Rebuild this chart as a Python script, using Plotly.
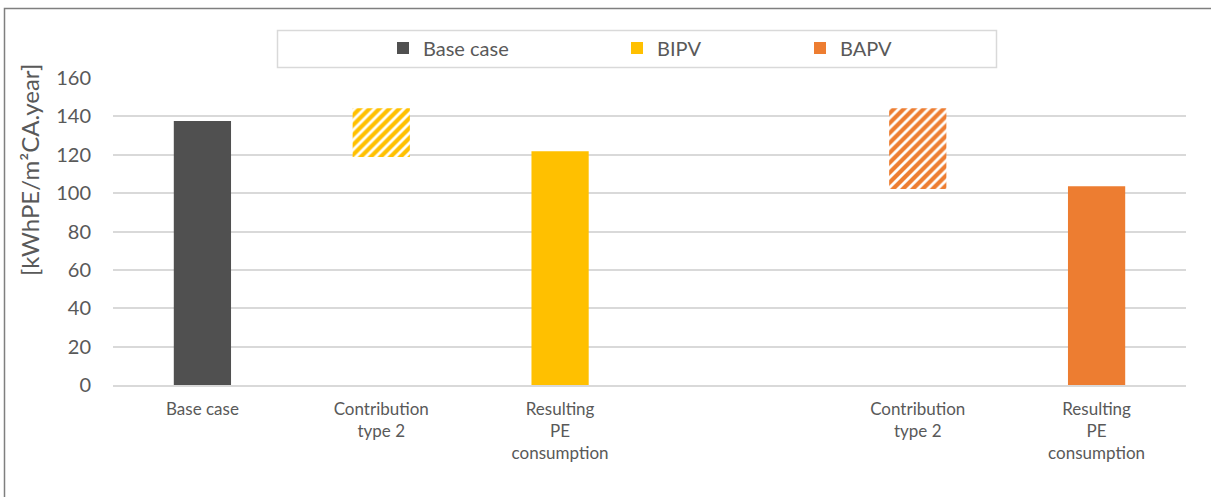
import plotly.graph_objects as go

# ---- data ----
categories = ["Base case", "Contribution<br>type 2", "Resulting<br>PE<br>consumption", "",
              "Contribution<br>type 2", "Resulting<br>PE<br>consumption"]
series_names = ["Base case", "BIPV", "BAPV"]
base_case_value = 137.6
bipv_contribution_low = 118.8
bipv_contribution_high = 144.2
bipv_resulting = 121.8
bapv_contribution_low = 102.2
bapv_contribution_high = 144.2
bapv_resulting = 103.6
y_ticks = [0, 20, 40, 60, 80, 100, 120, 140, 160]

colors = {"Base case": "#505050", "BIPV": "#FFC000", "BAPV": "#ED7D31"}
FONT = "Lato"
TXT = "#595959"
W = 0.32

fig = go.Figure()

fig.add_trace(go.Bar(x=[0], y=[base_case_value], width=W, name=series_names[0],
                     marker=dict(color=colors["Base case"], line=dict(width=0)),
                     legend="legend", showlegend=True))
# BIPV
fig.add_trace(go.Bar(x=[1], y=[bipv_contribution_high - bipv_contribution_low],
                     base=[bipv_contribution_low], width=W, name=series_names[1], showlegend=False,
                     marker=dict(color="white", line=dict(width=0),
                                 pattern=dict(shape="/", fgcolor=colors["BIPV"], bgcolor="white",
                                              fgopacity=1, size=7, solidity=0.6, fillmode="replace")),
                     legend="legend2"))
fig.add_trace(go.Bar(x=[2], y=[bipv_resulting], width=W, name=series_names[1],
                     marker=dict(color=colors["BIPV"], line=dict(width=0)), legend="legend2"))
# BAPV
fig.add_trace(go.Bar(x=[4], y=[bapv_contribution_high - bapv_contribution_low],
                     base=[bapv_contribution_low], width=W, name=series_names[2], showlegend=False,
                     marker=dict(color="white", line=dict(width=0),
                                 pattern=dict(shape="/", fgcolor=colors["BAPV"], bgcolor="white",
                                              fgopacity=1, size=7, solidity=0.6, fillmode="replace")),
                     legend="legend3"))
fig.add_trace(go.Bar(x=[5], y=[bapv_resulting], width=W, name=series_names[2],
                     marker=dict(color=colors["BAPV"], line=dict(width=0)), legend="legend3"))

L, R, T, B = 113, 25, 78, 112
PW, PH = 1211 - L - R, 497 - T - B

def px_x(p):
    return (p - L) / PW

def px_y(p):
    return (497 - B - p) / PH

leg_common = dict(orientation="h", font=dict(family=FONT, size=20, color=TXT),
                  bgcolor="rgba(0,0,0,0)", borderwidth=0, yanchor="middle", y=px_y(48),
                  xanchor="left")

fig.update_layout(
    width=1211, height=497,
    margin=dict(l=L, r=R, t=T, b=B, autoexpand=False),
    paper_bgcolor="white", plot_bgcolor="white",
    barmode="overlay",
    showlegend=True,
    font=dict(family=FONT, color=TXT),
    legend=dict(**leg_common, x=px_x(383)),
    legend2=dict(**leg_common, x=px_x(617)),
    legend3=dict(**leg_common, x=px_x(800)),
    xaxis=dict(range=[-0.5, 5.5], tickvals=list(range(len(categories))), ticktext=categories,
               tickfont=dict(family=FONT, size=17, color=TXT), showgrid=False,
               showline=True, linecolor="#d9d9d9", linewidth=1.5, ticks="", zeroline=False,
               ticklabelstandoff=8, fixedrange=True),
    yaxis=dict(range=[0, 160], tickvals=y_ticks, tickfont=dict(family=FONT, size=20, color=TXT),
               showgrid=True, gridcolor="#d9d9d9", gridwidth=1.5, zeroline=False,
               showline=False, ticks="", ticklabelstandoff=21),
    shapes=[
        dict(type="rect", xref="paper", yref="paper", x0=px_x(4.5), x1=px_x(1216),
             y0=px_y(502), y1=px_y(8.5), line=dict(color="#7f7f7f", width=1.5),
             fillcolor="rgba(0,0,0,0)", layer="below"),
        dict(type="rect", xref="paper", yref="paper", x0=px_x(277.5), x1=px_x(996.5),
             y0=px_y(67.5), y1=px_y(30.5), line=dict(color="#d9d9d9", width=1.5),
             fillcolor="rgba(0,0,0,0)"),
    ],
    annotations=[
        dict(text="[kWhPE/m²CA.year]", xref="paper", yref="paper", x=px_x(29), y=px_y(170),
             textangle=-90, showarrow=False, xanchor="center", yanchor="middle",
             font=dict(family=FONT, size=24, color=TXT)),
    ],
)

fig.write_html("out.html")
